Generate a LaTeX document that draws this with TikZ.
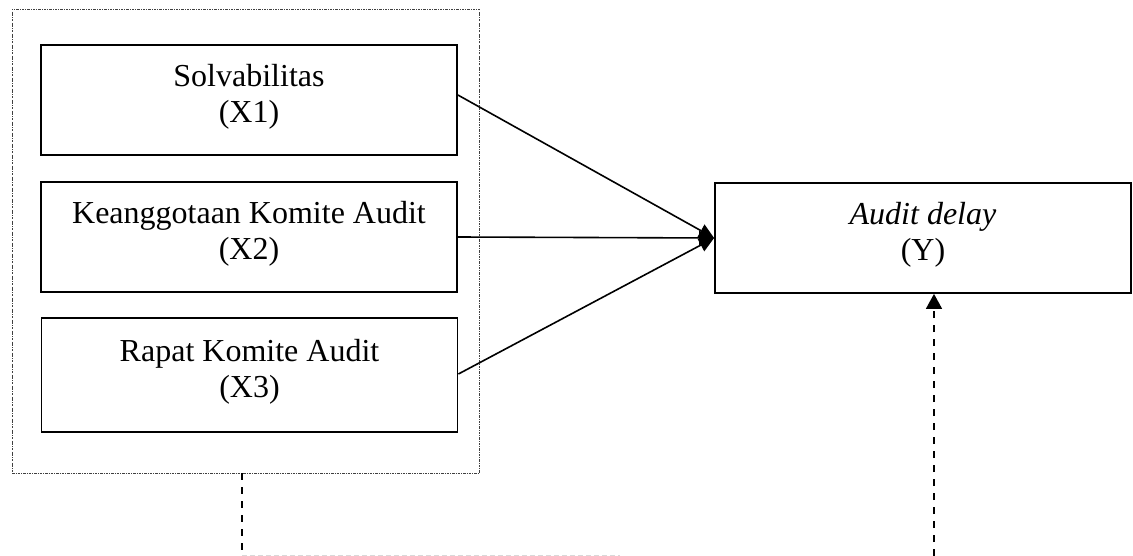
\documentclass[tikz,border=0pt]{standalone}
\usepackage{fontspec}
\setmainfont{Liberation Serif}
\usetikzlibrary{arrows.meta}
\begin{document}
\begin{tikzpicture}[x=1pt,y=-1pt,
  varbox/.style={draw=black, line width=1.8pt, minimum width=416pt, inner sep=0pt},
  vartext/.style={align=center, inner sep=0pt, yshift=3pt, font=\fontsize{32}{36.5}\selectfont},
  outerbox/.style={draw=black!75, line width=0.8pt,
    dash pattern=on 2.5pt off 1.2pt on 0.6pt off 1.2pt, minimum width=467pt, minimum height=464pt, inner sep=0pt},
  conn/.style={line width=1.6pt, -{Triangle[length=15pt,width=14pt]}},
  dconn/.style={line width=1.6pt, dash pattern=on 7pt off 7pt},
  faint/.style={line width=1pt, draw=black!15, dash pattern=on 5pt off 3pt}
]
\useasboundingbox (0,0) rectangle (1133,556);
\node[outerbox] (outer) at (245.5,241) {};
\node[varbox, minimum height=110pt] (b1) at (249,100) {};
\node[varbox, minimum height=110pt] (b2) at (249,237) {};
\node[varbox, minimum height=114pt] (b3) at (249.5,375) {};
\node[varbox, minimum height=110pt] (y) at (923,238) {};
\node[vartext] (t1) at (b1.center) {Solvabilitas\\(X1)};
\node[vartext] (t2) at (b2.center) {Keanggotaan Komite Audit\\(X2)};
\node[vartext] (t3) at (b3.center) {Rapat Komite Audit\\(X3)};
\node[vartext] (ty) at (y.center) {\textit{Audit delay}\\(Y)};
\draw[conn] ([yshift=5pt]b1.east) -- (y.west);
\draw[conn] (b2.east) -- (y.west);
\draw[conn] ([yshift=1pt]b3.east) -- (y.west);
\coordinate (lb) at (242,555);
\coordinate (rb) at (934,556);
\coordinate (fe) at (620,555);
\draw[dconn] (outer.south -| lb) -- (lb);
\draw[faint] (lb) -- (fe);
\draw[dconn, -{Triangle[length=15pt,width=16pt]}] (rb) -- (rb |- y.south);
\end{tikzpicture}
\end{document}
